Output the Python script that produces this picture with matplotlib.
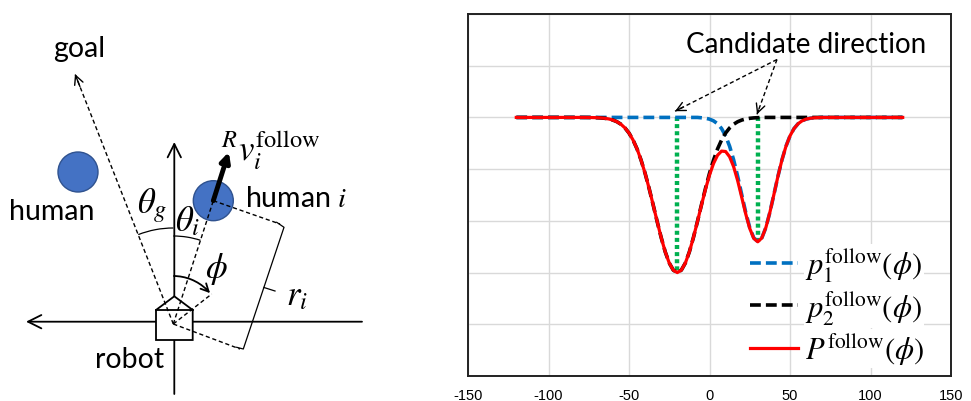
import numpy as np
import matplotlib.pyplot as plt
from matplotlib.patches import Circle, Polygon, Arc

plt.rcParams['mathtext.fontset'] = 'stix'
plt.rcParams['font.family'] = ['Lato', 'DejaVu Sans']

# ---- data ----
phi = [-120, -110, -100, -90, -80, -75,
       -70, -67.5, -65, -62.5, -60, -57.5, -55, -52.5, -50, -47.5,
       -45, -42.5, -40, -37.5, -35, -32.5, -30, -27.5, -25, -22.5,
       -20, -17.5, -15, -12.5, -10, -7.5, -5, -2.5, 0, 2.5,
       5, 7.5, 10, 12.5, 15, 17.5, 20, 22.5, 25, 27.5,
       30, 32.5, 35, 37.5, 40, 42.5, 45, 47.5, 50, 52.5,
       55, 57.5, 60, 62.5, 65,
       70, 75, 80, 90, 100, 110, 120]

p1 = [0, 0, 0, 0, 0, 0,
      0, 0, 0, 0, 0, 0, 0, 0, 0, 0,
      0, 0, 0, 0, 0, 0, 0, 0, 0, 0,
      0, 0, 0, 0, 0, 0, -0.007, -0.016, -0.033, -0.066,
      -0.122, -0.215, -0.357, -0.558, -0.822, -1.140, -1.491, -1.836, -2.131, -2.330,
      -2.400, -2.330, -2.131, -1.836, -1.491, -1.140, -0.822, -0.558, -0.357, -0.215,
      -0.122, -0.066, -0.033, -0.016, -0.007,
      0, 0, 0, 0, 0, 0, 0]

p2 = [0, 0, 0, 0, 0, -0.001,
      -0.005, -0.009, -0.017, -0.030, -0.051, -0.083, -0.132, -0.203, -0.302, -0.436,
      -0.609, -0.825, -1.081, -1.373, -1.690, -2.014, -2.324, -2.599, -2.815, -2.953,
      -3.000, -2.953, -2.815, -2.599, -2.324, -2.014, -1.690, -1.373, -1.081, -0.825,
      -0.609, -0.436, -0.302, -0.203, -0.132, -0.083, -0.051, -0.030, -0.017, -0.009,
      -0.005, 0, 0, 0, 0, 0, 0, 0, 0, 0,
      0, 0, 0, 0, 0,
      0, 0, 0, 0, 0, 0, 0]

P = [0, 0, 0, 0, 0, -0.001,
     -0.005, -0.009, -0.017, -0.030, -0.051, -0.083, -0.132, -0.203, -0.302, -0.436,
     -0.609, -0.825, -1.081, -1.373, -1.690, -2.014, -2.324, -2.599, -2.815, -2.953,
     -3.000, -2.953, -2.815, -2.599, -2.324, -2.014, -1.697, -1.389, -1.114, -0.891,
     -0.731, -0.651, -0.659, -0.761, -0.954, -1.223, -1.542, -1.866, -2.148, -2.339,
     -2.405, -2.330, -2.131, -1.836, -1.491, -1.140, -0.822, -0.558, -0.357, -0.215,
     -0.122, -0.066, -0.033, -0.016, -0.007,
     0, 0, 0, 0, 0, 0, 0]

cand_phi = [-20, 30]
cand_val = [-3.0, -2.4]
xticks = [-150, -100, -50, 0, 50, 100, 150]
labels = [r'$p_1^{\mathrm{follow}}(\phi)$', r'$p_2^{\mathrm{follow}}(\phi)$',
          r'$P^{\mathrm{follow}}(\phi)$']

fig = plt.figure(figsize=(9.71, 4.02), dpi=100)

# ---- left: sketch, drawn in pixel units ----
ax0 = fig.add_axes([0, 0, 440 / 971, 1])
ax0.set_xlim(0, 440)
ax0.set_ylim(402, 0)
ax0.axis('off')

def head(ax, p, q, lw=1.0, ms=14, z=5):
    ax.annotate('', xy=q, xytext=p,
                arrowprops=dict(arrowstyle='->', lw=lw, color='k', mutation_scale=ms,
                                shrinkA=0, shrinkB=0), zorder=z)

def dline(ax, p, q, lw=1.0, z=4):
    ax.plot([p[0], q[0]], [p[1], q[1]], color='k', lw=lw, ls=(0, (3, 2)), zorder=z)

c = (173.3, 325)
# world axes
head(ax0, (362, 322.7), (26, 322.7), lw=1.3, ms=24, z=1)
head(ax0, (174.3, 395), (174.3, 143), lw=1.3, ms=24, z=1)

# robot: box with a roof
ax0.add_patch(Polygon([(156, 341), (192.7, 341), (192.7, 311), (174.3, 297.3), (156, 311)],
                      closed=True, fc='white', ec='k', lw=1.3, zorder=3))
ax0.plot([156, 192.7], [311, 311], color='k', lw=1.3, zorder=3)

# humans
for hx, hy in [(78, 173), (213.3, 201.7)]:
    ax0.add_patch(Circle((hx, hy), 20, fc='#4472C4', ec='#2F528F', lw=1, zorder=2))

# dashed construction lines
goal = (75, 75)
dline(ax0, c, goal)
head(ax0, (goal[0] + 0.05 * (c[0] - goal[0]), goal[1] + 0.05 * (c[1] - goal[1])), goal, ms=16)
dline(ax0, c, (213.3, 201.7))
dline(ax0, c, (211.7, 295))
dline(ax0, c, (240, 350))
dline(ax0, (213.3, 201.7), (280, 225))

# r_i bracket
ax0.plot([276.7, 284, 243.3, 236.7], [223.3, 228.3, 350, 348.3], color='k', lw=0.9, zorder=3)
ax0.plot([264, 275], [288.5, 292], color='k', lw=0.9, zorder=3)

# angle arcs
ax0.add_patch(Arc(c, 192, 192, theta1=-111.4, theta2=-90, color='k', lw=0.9))
ax0.add_patch(Arc(c, 176, 176, theta1=-90, theta2=-72, color='k', lw=0.9))
ax0.add_patch(Arc(c, 96, 96, theta1=-90, theta2=-46, color='k', lw=1.3))
a1, a2 = np.radians(-47), np.radians(-40)
head(ax0, (c[0] + 48 * np.cos(a1), c[1] + 48 * np.sin(a1)),
     (c[0] + 48 * np.cos(a2), c[1] + 48 * np.sin(a2)), lw=1.3, ms=14)

# velocity of human i
ax0.annotate('', xy=(228.8, 153), xytext=(213.3, 201.7),
             arrowprops=dict(arrowstyle='-|>', lw=3.5, color='k', mutation_scale=14,
                             shrinkA=0, shrinkB=0), zorder=6)

fs = 20.5
ax0.text(79, 57, 'goal', fontsize=fs, ha='center', va='baseline')
ax0.text(52, 220, 'human', fontsize=fs, ha='center', va='baseline')
ax0.text(245, 207, 'human $i$', fontsize=fs, ha='left', va='baseline')
ax0.text(130, 368, 'robot', fontsize=fs, ha='center', va='baseline')
mfs = 25
ax0.text(137, 213, r'$\theta_g$', fontsize=mfs, ha='left', va='baseline')
ax0.text(175, 231, r'$\theta_i$', fontsize=mfs, ha='left', va='baseline')
ax0.text(216, 269, r'$\phi$', fontsize=mfs, ha='center', va='center')
ax0.text(286, 305, r'$r_i$', fontsize=mfs, ha='left', va='baseline')
ax0.text(221, 160, r'${}^{R}v_i^{\mathrm{follow}}$', fontsize=mfs, ha='left', va='baseline')

# ---- right: chart ----
ax = fig.add_axes([468 / 971, 25 / 402, 483 / 971, 362 / 402])
ax.set_xlim(-150, 150)
ax.set_ylim(-5, 2)
ax.set_xticks(xticks)
ax.set_xticklabels([str(t) for t in xticks], family='Liberation Sans', fontsize=10.5)
ax.set_yticks(range(-5, 3))
ax.set_yticklabels([])
ax.tick_params(length=0, pad=9)
ax.grid(True, color='#d9d9d9', lw=1)
ax.set_axisbelow(True)
for s in ax.spines.values():
    s.set_color('#222222')
    s.set_linewidth(1.4)

for xv, yv in zip(cand_phi, cand_val):
    ax.plot([xv, xv], [0, yv], color='#00B050', lw=3.2, ls=(0, (0.9, 0.7)), zorder=2)
ax.plot(phi, p1, color='#0070C0', lw=2.6, ls=(0, (3, 1.4)), label=labels[0], zorder=3)
ax.plot(phi, p2, color='black', lw=2.6, ls=(0, (3, 1.4)), label=labels[1], zorder=3)
ax.plot(phi, P, color='#FF0000', lw=2.3, label=labels[2], zorder=4)

leg = ax.legend(loc='upper left', bbox_to_anchor=(735 / 971, 1 - 231 / 402),
                bbox_transform=fig.transFigure, frameon=False, fontsize=22,
                handlelength=1.55, handletextpad=0.25, labelspacing=0.12, borderpad=0)
for t in leg.get_texts():
    t.set_bbox(dict(fc='white', ec='none', pad=1))

# candidate direction annotation
ax.text(60, 1.257, 'Candidate direction', fontsize=20, ha='center', va='baseline')
src = (41.9, 1.12)
for end in [(-21.4, 0.12), (29.5, 0.06)]:
    ax.plot([src[0], end[0]], [src[1], end[1]], color='k', lw=1.0, ls=(0, (3, 2)), zorder=5)
    head(ax, (end[0] + 0.08 * (src[0] - end[0]), end[1] + 0.08 * (src[1] - end[1])), end, ms=16)

fig.savefig('out.png', dpi=100)
